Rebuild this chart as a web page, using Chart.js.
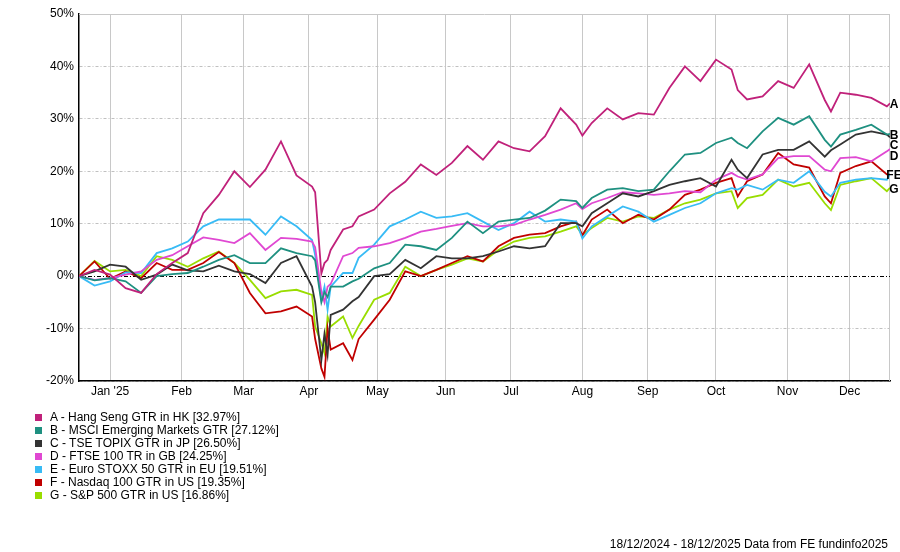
<!DOCTYPE html>
<html>
<head>
<meta charset="utf-8">
<title>Index performance 18/12/2024 - 18/12/2025</title>
<script src="https://cdn.jsdelivr.net/npm/chart.js@4.4.1/dist/chart.umd.min.js"></script>
<style>
    html, body { margin: 0; padding: 0; background: #fff; }
    #wrap { position: relative; width: 900px; height: 552px; font-family: "Liberation Sans", Arial, sans-serif; font-size: 12px; color: #000; }
    #chart { position: absolute; left: 0; top: 0; }
    .legend-row { position: absolute; left: 35px; height: 13px; line-height: 13px; white-space: nowrap; }
    .legend-row span.sw { position: absolute; left: 0; top: 3px; width: 7px; height: 7px; }
    .legend-row span.tx { position: absolute; left: 15px; top: 0; }
    #footer { position: absolute; right: 12px; top: 537px; line-height: 14px; white-space: nowrap; }
</style>
</head>
<body>
<div id="wrap">
    <canvas id="chart" width="900" height="552"></canvas>
    <div id="legend"></div>
    <div id="footer">18/12/2024 - 18/12/2025 Data from FE fundinfo2025</div>
</div>
<script>
// sample dates (weekly, plus a few extra days around the big moves)
const dates = [
    '2024-12-18', '2024-12-25', '2025-01-01', '2025-01-08', '2025-01-15', '2025-01-22', '2025-01-29',
    '2025-02-05', '2025-02-12', '2025-02-19', '2025-02-26', '2025-03-05', '2025-03-12', '2025-03-19',
    '2025-03-26', '2025-04-02', '2025-04-03', '2025-04-07', '2025-04-08', '2025-04-09', '2025-04-10',
    '2025-04-16', '2025-04-21', '2025-04-23', '2025-04-30', '2025-05-07', '2025-05-14', '2025-05-21',
    '2025-05-28', '2025-06-04', '2025-06-11', '2025-06-18', '2025-06-25', '2025-07-02', '2025-07-09',
    '2025-07-16', '2025-07-23', '2025-07-30', '2025-08-01', '2025-08-06', '2025-08-13', '2025-08-20',
    '2025-08-27', '2025-09-03', '2025-09-10', '2025-09-17', '2025-09-24', '2025-10-01', '2025-10-08',
    '2025-10-10', '2025-10-15', '2025-10-22', '2025-10-29', '2025-11-05', '2025-11-12', '2025-11-19',
    '2025-11-21', '2025-11-26', '2025-12-03', '2025-12-10', '2025-12-17', '2025-12-18'
];

// cumulative total return, %
const hangSeng = [0, 1.2, 0.3, -2.3, -3.2, 0.4, 2.5, 4.4, 12, 15.5, 20, 17, 20.3, 25.7, 19.2,
    17.1, 16, 0.5, 2.5, 3.1, 5, 8.9, 9.5, 11.4, 12.7, 15.8, 18, 21.3, 19.3, 21.6, 24.8, 22.2, 25.7,
    24.4, 23.8, 26.7, 32, 28.9, 26.8, 29.2, 32, 29.9, 31.1, 30.8, 35.9, 40, 37.2, 41.3, 39.4, 35.5, 33.7,
    34.3, 37.2, 35.9, 40.4, 33.6, 31.4, 35, 34.6, 34, 32.4, 32.97];
const msciEm = [0, -0.8, -0.4, -1, -3.2, 0, 0.4, 0.6, 1.8, 3.1, 4, 2.5, 2.5, 5.3, 4.4,
    3.8, 3, -5, -3, -4, -2, -2, -1, -0.5, 1.5, 2.5, 6, 5.7, 5, 7.3, 10.4, 8.2, 10.4,
    10.8, 11.1, 12.5, 14.6, 14.3, 13, 14.9, 16.5, 16.8, 16.2, 16.5, 20, 23.2, 23.5, 25.4, 26.4, 25.4, 24.4,
    27.6, 30.2, 28.9, 30.5, 26, 24.7, 27, 27.9, 28.9, 27, 27.12];
const topix = [0, 0.9, 2.2, 1.8, -0.7, 0.3, 2.2, 1.1, 0.9, 2, 0.9, 0.4, -1.3, 2.5, 3.8,
    -2, -5, -16, -11, -15, -7.4, -6.4, -4.8, -4, 0, 0.4, 3.1, 1.5, 3.8, 3.4, 3.4, 3.8, 4.7,
    5.7, 5.3, 5.7, 10.1, 10.1, 9.5, 12, 13.9, 15.8, 15.2, 16.2, 17.4, 18.1, 18.7, 17.1, 22.2, 20.3, 18.7,
    23.2, 24.1, 24.1, 25.7, 22.8, 24, 25.1, 27, 27.6, 27, 26.5];
const ftse100 = [0, -0.7, -0.4, 0.3, 0.9, 3.1, 4, 5.7, 7.4, 6.9, 6.3, 8.2, 5, 7.3, 7.1,
    6.6, 5.5, -3, -5, -2, -1.5, 3.8, 4.4, 5.4, 5.7, 6.3, 7.3, 8.5, 9, 9.6, 10.1, 9.5, 9.5,
    9.8, 10.8, 11.7, 12.7, 13.9, 12.8, 13.9, 14.9, 16, 15.8, 15.5, 15.8, 16.2, 16, 18.4, 19.7, 19, 18.4,
    19.4, 22.5, 22.9, 22.9, 20.3, 20, 22.5, 22.7, 21.9, 23.8, 24.25];
const euroStoxx = [0, -1.8, -1, 0.7, 0.6, 4.4, 5.3, 6.6, 9.5, 10.8, 10.8, 10.8, 7.9, 11.4, 9.5,
    6.9, 4, -4.5, -2, -6.4, -2, 0.6, 0.6, 3.5, 6, 9.5, 10.8, 12.3, 11.1, 11.4, 12, 10.4, 8.8,
    10.1, 12.3, 10.4, 10.8, 10.4, 7.2, 9.5, 11.4, 13.3, 12.3, 10.4, 11.7, 13, 13.9, 15.8, 16.8, 16.5, 17.4,
    16.5, 18.4, 17.8, 20, 16.1, 15.2, 17.8, 18.4, 18.7, 18.4, 19.51];
const nasdaq100 = [0, 2.8, -0.5, 0.9, -0.4, 2.5, 1.2, 1.2, 2.5, 4.6, 2.5, -3.2, -7.1, -6.7, -5.8,
    -7.7, -12, -17.6, -19.2, -10, -14, -12.8, -16, -12, -8.3, -4.5, 0.9, 0, 1.2, 2.5, 3.8, 2.8, 5.7,
    7.3, 7.9, 8.2, 9.5, 10.4, 7.8, 10.8, 12.7, 10.1, 11.7, 10.8, 12.7, 15.5, 16.5, 17.8, 18.7, 15.2, 18.1,
    19.4, 23.5, 21.3, 20.7, 15.2, 13.9, 19.7, 21, 21.9, 19.4, 19.35];
const sp500 = [0, 2.9, 0.9, 1.2, 0, 3.8, 3.1, 1.8, 3.4, 4.7, 2.5, -0.7, -4.2, -2.9, -2.6,
    -3.6, -9.6, -12.8, -14.7, -7.7, -9.6, -7.7, -11.8, -9.5, -4.5, -3.2, 1.8, 0, 1.2, 2.2, 3.4, 2.8, 5,
    6.6, 7.3, 7.6, 8.5, 9.5, 7.9, 9.2, 11.1, 10.4, 11.4, 11.1, 12.7, 13.9, 14.6, 15.8, 16.2, 13, 14.9,
    15.5, 18.4, 17.1, 17.8, 13.9, 12.6, 17.4, 18.1, 18.7, 16.2, 16.86];

const seriesNames = [
    'A - Hang Seng GTR in HK [32.97%]',
    'B - MSCI Emerging Markets GTR [27.12%]',
    'C - TSE TOPIX GTR in JP [26.50%]',
    'D - FTSE 100 TR in GB [24.25%]',
    'E - Euro STOXX 50 GTR in EU [19.51%]',
    'F - Nasdaq 100 GTR in US [19.35%]',
    'G - S&P 500 GTR in US [16.86%]'
];
const endLabels = ['A', 'B', 'C', 'D', 'E', 'F', 'G'];
const seriesColors = ['#c0217a', '#1e9080', '#333333', '#e048d2', '#38bbf5', '#c00000', '#99dd00'];
const seriesValues = [hangSeng, msciEm, topix, ftse100, euroStoxx, nasdaq100, sp500];

// x axis: month gridlines
const tickDates = ['2025-01-01', '2025-02-01', '2025-03-01', '2025-04-01', '2025-05-01', '2025-06-01',
    '2025-07-01', '2025-08-01', '2025-09-01', '2025-10-01', '2025-11-01', '2025-12-01'];
const tickLabels = ["Jan '25", 'Feb', 'Mar', 'Apr', 'May', 'Jun', 'Jul', 'Aug', 'Sep', 'Oct', 'Nov', 'Dec'];

// trading-day position (weekdays since the start date)
const startDate = '2024-12-18';
function tradingIndex(s) {
    const end = Date.parse(s + 'T00:00:00Z');
    let n = 0;
    for (let t = Date.parse(startDate + 'T00:00:00Z'); t < end; t += 86400000) {
        const w = new Date(t).getUTCDay();
        if (w !== 0 && w !== 6) n++;
    }
    return n;
}

const xPos = dates.map(tradingIndex);
const tickPos = tickDates.map(tradingIndex);
const FONT = '"Liberation Sans", Arial, sans-serif';

// legend
const legendEl = document.getElementById('legend');
seriesNames.forEach((name, i) => {
    const row = document.createElement('div');
    row.className = 'legend-row';
    row.style.top = (410.5 + i * 13.1) + 'px';
    row.innerHTML = '<span class="sw" style="background:' + seriesColors[i] + '"></span><span class="tx"></span>';
    row.querySelector('.tx').textContent = name;
    legendEl.appendChild(row);
});

const framePlugin = {
    id: 'frame',
    beforeDatasetsDraw(chart) {
        const { ctx, chartArea: a, scales } = chart;
        ctx.save();
        ctx.strokeStyle = '#c8c8c8';
        ctx.lineWidth = 1;
        ctx.beginPath();
        ctx.moveTo(a.left, a.top + 0.5);
        ctx.lineTo(a.right, a.top + 0.5);
        ctx.moveTo(a.right - 0.5, a.top);
        ctx.lineTo(a.right - 0.5, a.bottom);
        ctx.stroke();
        // zero line
        const y0 = Math.round(scales.y.getPixelForValue(0)) + 0.5;
        ctx.strokeStyle = '#000';
        ctx.setLineDash([4, 2, 1, 2]);
        ctx.beginPath();
        ctx.moveTo(a.left, y0);
        ctx.lineTo(a.right, y0);
        ctx.stroke();
        ctx.restore();
    }
};

const endLabelPlugin = {
    id: 'endLabels',
    afterDatasetsDraw(chart) {
        const { ctx, chartArea: a, scales } = chart;
        const items = seriesValues.map((vals, i) => ({
            text: endLabels[i],
            value: vals[vals.length - 1],
            y: scales.y.getPixelForValue(vals[vals.length - 1])
        })).sort((p, q) => p.y - q.y);
        // merge labels that sit on top of each other
        const groups = [];
        items.forEach(it => {
            const last = groups[groups.length - 1];
            if (last && Math.abs(it.y - last.y) < 3) {
                last.members.push(it);
            } else {
                groups.push({ y: it.y, members: [it] });
            }
        });
        ctx.save();
        ctx.font = 'bold 12px ' + FONT;
        ctx.fillStyle = '#000';
        ctx.textAlign = 'center';
        ctx.textBaseline = 'middle';
        let prev = -Infinity;
        groups.forEach(g => {
            const text = g.members.slice().sort((p, q) => p.value - q.value).map(m => m.text).join('');
            const y = Math.max(g.y + 1.5, prev + 10.5);
            ctx.fillText(text, a.right + 4, y);
            prev = y;
        });
        ctx.restore();
    }
};

new Chart(document.getElementById('chart'), {
    type: 'line',
    data: {
        datasets: seriesValues.map((vals, i) => ({
            label: seriesNames[i],
            data: vals.map((v, j) => ({ x: xPos[j], y: v })),
            borderColor: seriesColors[i],
            backgroundColor: seriesColors[i],
            borderWidth: 1.8,
            pointRadius: 0,
            tension: 0,
            fill: false
        }))
    },
    options: {
        responsive: false,
        animation: false,
        devicePixelRatio: 1,
        layout: { padding: { left: 0, right: 10, top: 14, bottom: 151 } },
        plugins: {
            legend: { display: false },
            tooltip: { enabled: false }
        },
        scales: {
            x: {
                type: 'linear',
                min: 0,
                max: tradingIndex('2025-12-18'),
                afterBuildTicks: scale => { scale.ticks = tickPos.map(v => ({ value: v })); },
                afterFit: scale => { scale.height = 20; },
                ticks: {
                    autoSkip: false,
                    maxRotation: 0,
                    padding: 3,
                    color: '#000',
                    font: { family: FONT, size: 12 },
                    callback: (value, index) => tickLabels[index]
                },
                grid: { color: '#c8c8c8', lineWidth: 1, drawTicks: false },
                border: { color: '#000', width: 1.5 }
            },
            y: {
                min: -20,
                max: 50,
                afterFit: scale => { scale.width = 79; },
                ticks: {
                    stepSize: 10,
                    padding: 5,
                    color: '#000',
                    font: { family: FONT, size: 12 },
                    callback: v => v + '%'
                },
                grid: {
                    color: ctx => (ctx.tick && (ctx.tick.value === 0 || ctx.tick.value === 50)) ? 'rgba(0,0,0,0)' : '#c0c0c0',
                    lineWidth: 1,
                    drawTicks: false
                },
                border: { color: '#000', width: 1.5, dash: [3, 2, 1, 2] }
            }
        }
    },
    plugins: [framePlugin, endLabelPlugin]
});
</script>
</body>
</html>
